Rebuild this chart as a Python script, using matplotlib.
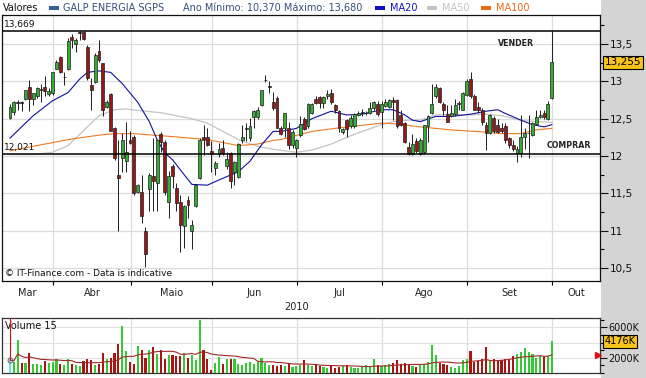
import numpy as np
import pandas as pd
import matplotlib
matplotlib.use('Agg')
import matplotlib.pyplot as plt
from matplotlib import font_manager
from matplotlib.patches import Rectangle
from matplotlib.ticker import MultipleLocator, FixedLocator, FuncFormatter
from matplotlib.transforms import blended_transform_factory

# sessoes de 16 Mar a 30 Set 2010 (sem 2 e 5 Abr)
sessoes = pd.bdate_range('2010-03-16', '2010-09-30')
sessoes = sessoes[~sessoes.isin(pd.to_datetime(['2010-04-02', '2010-04-05']))]

abertura = [12.51, 12.59, 12.71, 12.72, 12.76, 12.92, 12.76, 12.80, 12.89, 12.93,
            12.83, 12.84, 13.17, 13.32, 13.06, 13.17, 13.60, 13.50, 13.65, 13.66,
            13.46, 12.95, 12.99, 13.41, 13.24, 12.66, 12.83, 12.38, 11.75, 11.97,
            11.94, 12.22, 12.25, 11.52, 11.52, 10.99, 11.56, 11.73, 11.64, 12.30,
            12.19, 11.39, 11.87, 11.57, 11.39, 11.06, 11.41, 11.00, 11.33, 11.71,
            12.25, 12.25, 12.07, 11.84, 12.03, 12.11, 11.87, 12.04, 11.78, 11.72,
            12.22, 12.36, 12.24, 12.52, 12.52, 12.68, 13.02, 12.93, 12.73, 12.78,
            12.37, 12.37, 12.37, 12.15, 12.11, 12.28, 12.50, 12.40, 12.58, 12.77,
            12.79, 12.71, 12.81, 12.84, 12.68, 12.60, 12.32, 12.48, 12.40, 12.40,
            12.55, 12.58, 12.57, 12.58, 12.64, 12.70, 12.59, 12.67, 12.66, 12.75,
            12.75, 12.55, 12.44, 12.12, 12.03, 12.20, 12.03, 12.05, 12.40, 12.57,
            12.80, 12.91, 12.69, 12.56, 12.54, 12.56, 12.70, 12.62, 12.82, 13.03,
            12.81, 12.65, 12.62, 12.42, 12.31, 12.51, 12.42, 12.37, 12.40, 12.24,
            12.15, 12.04, 12.04, 12.25, 12.31, 12.28, 12.43, 12.52, 12.58, 12.50,
            12.78]
fecho = [12.66, 12.72, 12.72, 12.71, 12.88, 12.76, 12.84, 12.91, 12.90, 12.875,
         12.875, 13.12, 13.26, 13.13, 13.06, 13.54, 13.55, 13.56, 13.65, 13.57,
         13.04, 12.89, 13.35, 13.28, 12.61, 12.72, 12.33, 11.97, 11.70, 12.22,
         12.06, 12.18, 11.50, 11.61, 11.20, 10.69, 11.75, 11.67, 12.22, 12.19,
         11.52, 11.73, 11.73, 11.37, 11.08, 11.33, 11.35, 11.07, 11.61, 12.22,
         12.22, 12.15, 12.03, 11.90, 12.09, 12.04, 11.96, 11.67, 11.92, 12.16,
         12.26, 12.38, 12.40, 12.60, 12.61, 12.88, 13.02, 12.93, 12.64, 12.38,
         12.30, 12.57, 12.15, 12.32, 12.21, 12.43, 12.36, 12.70, 12.70, 12.71,
         12.71, 12.79, 12.83, 12.72, 12.61, 12.38, 12.36, 12.36, 12.51, 12.56,
         12.57, 12.58, 12.58, 12.64, 12.72, 12.56, 12.70, 12.73, 12.75, 12.72,
         12.40, 12.42, 12.19, 12.03, 12.16, 12.07, 12.21, 12.41, 12.53, 12.70,
         12.93, 12.72, 12.62, 12.46, 12.58, 12.68, 12.70, 12.84, 13.00, 12.80,
         12.62, 12.62, 12.46, 12.31, 12.55, 12.33, 12.32, 12.34, 12.22, 12.15,
         12.10, 12.10, 12.25, 12.31, 12.31, 12.44, 12.52, 12.55, 12.52, 12.70,
         13.255]
maximo = [12.70, 12.74, 12.75, 12.74, 12.89, 13.02, 12.85, 12.93, 12.97, 13.07,
          12.91, 13.13, 13.28, 13.34, 13.13, 13.58, 13.63, 13.58, 13.67, 13.68,
          13.49, 13.04, 13.38, 13.55, 13.25, 12.75, 12.84, 12.39, 12.22, 12.31,
          12.45, 12.33, 12.28, 11.63, 11.75, 11.05, 11.77, 12.24, 12.23, 12.32,
          12.21, 11.80, 11.89, 11.64, 11.48, 11.35, 11.47, 11.14, 11.62, 12.24,
          12.42, 12.37, 12.20, 11.93, 12.17, 12.22, 12.05, 12.06, 11.94, 12.17,
          12.42, 12.44, 12.51, 12.61, 12.66, 12.89, 13.09, 13.00, 12.86, 12.80,
          12.40, 12.58, 12.45, 12.35, 12.23, 12.54, 12.52, 12.71, 12.71, 12.81,
          12.81, 12.80, 12.89, 12.90, 12.69, 12.61, 12.38, 12.50, 12.55, 12.58,
          12.60, 12.63, 12.60, 12.72, 12.74, 12.74, 12.74, 12.76, 12.77, 12.79,
          12.76, 12.61, 12.46, 12.19, 12.29, 12.24, 12.24, 12.42, 12.55, 12.97,
          12.97, 12.93, 12.72, 12.68, 12.68, 12.76, 12.74, 12.86, 13.03, 13.13,
          12.83, 12.73, 12.64, 12.46, 12.56, 12.53, 12.49, 12.44, 12.44, 12.26,
          12.22, 12.13, 12.55, 12.37, 12.55, 12.46, 12.62, 12.61, 12.62, 12.74,
          13.68]
minimo = [12.49, 12.55, 12.62, 12.60, 12.75, 12.60, 12.68, 12.78, 12.73, 12.81,
          12.80, 12.82, 13.16, 13.11, 12.95, 13.15, 13.44, 13.39, 13.56, 13.56,
          13.02, 12.61, 12.98, 13.26, 12.54, 12.64, 12.33, 11.95, 10.99, 11.79,
          11.79, 12.16, 11.48, 11.50, 11.10, 10.52, 11.26, 11.26, 11.26, 12.06,
          11.48, 11.17, 11.57, 11.26, 10.72, 10.77, 11.17, 10.76, 11.32, 11.69,
          12.02, 12.13, 11.79, 11.74, 11.99, 12.02, 11.82, 11.57, 11.61, 11.71,
          12.17, 12.20, 12.20, 12.38, 12.50, 12.67, 12.99, 12.85, 12.62, 12.37,
          12.28, 12.26, 12.10, 12.11, 11.99, 12.26, 12.35, 12.38, 12.56, 12.69,
          12.64, 12.64, 12.76, 12.70, 12.58, 12.32, 12.29, 12.26, 12.38, 12.38,
          12.53, 12.53, 12.55, 12.56, 12.62, 12.54, 12.38, 12.65, 12.64, 12.48,
          12.38, 12.40, 12.17, 12.01, 12.01, 12.04, 12.01, 12.03, 12.19, 12.56,
          12.78, 12.71, 12.55, 12.45, 12.52, 12.54, 12.62, 12.61, 12.80, 12.78,
          12.61, 12.58, 12.42, 12.08, 12.30, 12.31, 12.31, 12.31, 12.17, 12.11,
          12.07, 11.92, 11.99, 12.09, 11.97, 12.27, 12.42, 12.51, 12.50, 12.48,
          12.76]
volume_k = [1700, 1500, 4350, 1300, 1300, 2600, 1250, 1150, 1000, 1600,
            1330, 1470, 1780, 1150, 1060, 1780, 1150, 1020, 890, 1600,
            1780, 1690, 1020, 1240, 2660, 1900, 2040, 2580, 3820, 6200,
            2890, 1460, 1240, 3550, 3020, 2040, 3020, 3370, 2490, 3020,
            1900, 2350, 2350, 2220, 2220, 2660, 2040, 2350, 1690, 6930,
            3020, 1780, 440, 1330, 2130, 1240, 1900, 1900, 1780, 1200,
            1100, 1300, 1500, 1200, 1400, 2040, 1300, 1000, 1000, 900,
            1100, 900, 1200, 800, 900, 1000, 1690, 1100, 900, 1000,
            900, 800, 700, 900, 700, 800, 900, 1000, 800, 700,
            700, 900, 1000, 800, 1780, 1100, 900, 1000, 1200, 1300,
            1690, 1200, 1300, 1000, 900, 800, 1000, 1200, 1500, 3700,
            2350, 1300, 1200, 1000, 800, 700, 900, 1700, 1900, 2890,
            1500, 1600, 1800, 3370, 1700, 1800, 1600, 1700, 1900, 1800,
            2200, 2500, 2800, 3240, 2700, 2500, 2000, 2300, 2100, 2200,
            4176]

# medias moveis (sessao, valor)
ma20_dia = [0, 6, 11, 15, 18, 20, 23, 26, 29, 33, 36, 38, 40, 42, 45, 47, 51, 54, 59, 62, 65,
            68, 70, 74, 78, 83, 87, 91, 96, 99, 102, 104, 106, 110, 114, 119, 123, 126,
            128, 132, 135, 138, 140]
ma20_val = [12.24, 12.54, 12.74, 12.85, 13.03, 13.12, 13.14, 13.12, 12.97, 12.72, 12.46,
            12.22, 12.04, 11.95, 11.75, 11.62, 11.61, 11.68, 11.79, 11.93, 12.15,
            12.33, 12.33, 12.37, 12.50, 12.60, 12.55, 12.56, 12.62, 12.62, 12.55, 12.48,
            12.46, 12.53, 12.53, 12.56, 12.60, 12.62, 12.57, 12.48, 12.42, 12.39, 12.42]
ma50_dia = [0, 6, 11, 15, 19, 23, 27, 30, 33, 39, 47, 51, 55, 59, 64, 68, 74, 78, 83, 87,
            91, 96, 99, 103, 106, 110, 114, 119, 123, 127, 132, 136, 140]
ma50_val = [12.02, 12.02, 12.05, 12.14, 12.34, 12.54, 12.62, 12.63, 12.61, 12.58, 12.50,
            12.44, 12.33, 12.22, 12.13, 12.09, 12.05, 12.08, 12.16, 12.25, 12.33, 12.42,
            12.46, 12.48, 12.48, 12.55, 12.56, 12.55, 12.56, 12.54, 12.48, 12.46, 12.45]
ma100_dia = [0, 6, 15, 23, 27, 32, 42, 51, 59, 64, 68, 70, 78, 87, 96, 100, 106, 110, 114,
             123, 127, 132, 136, 140]
ma100_val = [12.07, 12.13, 12.22, 12.28, 12.30, 12.30, 12.26, 12.22, 12.14, 12.16, 12.21,
             12.22, 12.33, 12.39, 12.44, 12.43, 12.39, 12.37, 12.35, 12.32, 12.30, 12.30,
             12.35, 12.37]

meses = ['Mar', 'Abr', 'Maio', 'Jun', 'Jul', 'Ago', 'Set', 'Out']
nivel_vender = 13.669
nivel_comprar = 12.021


def fx(px):
    return px / 646


def fy(py):
    return 1 - py / 378


def virgula(v, pos=None):
    s = f'{v:g}'
    return s.replace('.', ',')


# fonte estreita para os avisos, se existir
instaladas = {f.name for f in font_manager.fontManager.ttflist}
if 'Liberation Sans Narrow' in instaladas:
    aviso = dict(family='Liberation Sans Narrow', fontsize=7.5)
else:
    aviso = dict(family='DejaVu Sans', fontstretch='condensed', fontsize=6.3)

x = np.arange(len(fecho))
o = np.array(abertura)
c = np.array(fecho)
sobe = c >= o
doji = np.abs(c - o) < 0.012

# posicao das viragens de mes em indice de sessao
mes_sessao = pd.Series(sessoes.month)
viragens = [i - 0.85 for i in range(1, len(sessoes)) if mes_sessao[i] != mes_sessao[i - 1]]
viragens.append(len(sessoes) - 0.85)
xmin, xmax = -2.07, 152.45

fig = plt.figure(figsize=(6.46, 3.78), dpi=100)
fig.patch.set_facecolor('white')
fig.add_artist(Rectangle((fx(601), 0), 1 - fx(601), 1, transform=fig.transFigure,
                         facecolor='#d4d4d4', edgecolor='none', zorder=0))

ax = fig.add_axes([fx(2), fy(281), fx(598), 266 / 378])
ax.set_xlim(xmin, xmax)
ax.set_ylim(10.327, 13.888)

# grelha
for v in viragens:
    ax.axvline(v, color='#dcdcdc', lw=0.9, zorder=1)
for v in np.arange(10.5, 13.6, 0.5):
    ax.axhline(v, color='#dcdcdc', lw=0.9, zorder=1)

# medias moveis
ax.plot(ma50_dia, ma50_val, color='#c4c4c4', lw=0.9, zorder=2)
ax.plot(ma100_dia, ma100_val, color='#ee7b22', lw=0.8, zorder=2)
ax.plot(ma20_dia, ma20_val, color='#1010a0', lw=0.8, zorder=2)

# velas
cores = np.where(doji, '#202020', np.where(sobe, '#33ad33', '#961818'))
ax.vlines(x, minimo, maximo, color='#1e1e1e', lw=0.7, zorder=3)
altura = np.maximum(np.abs(c - o), 0.004)
ax.bar(x, altura, bottom=np.minimum(o, c), width=0.75, color=cores,
       edgecolor='#1e1e1e', linewidth=0.5, zorder=4)

# suporte e resistencia
mix = blended_transform_factory(ax.transAxes, ax.transData)
ax.axhline(nivel_vender, color='black', lw=1.1, zorder=5)
ax.axhline(nivel_comprar, color='black', lw=1.1, zorder=5)
ax.text(0.003, nivel_vender + 0.03, virgula(nivel_vender), transform=mix,
        fontsize=6.5, va='bottom', ha='left', color='#111111')
ax.text(0.003, nivel_comprar + 0.03, virgula(nivel_comprar), transform=mix,
        fontsize=6.5, va='bottom', ha='left', color='#111111')
ax.text(130.8, 13.5, 'VENDER', fontweight='bold', ha='center', va='center',
        color='#222222', zorder=6, **aviso)
ax.text(144.4, 12.14, 'COMPRAR', fontweight='bold', ha='center', va='center',
        color='#222222', zorder=6, **aviso)
ax.text(0.005, 0.03, '\u00a9 IT-Finance.com - Data is indicative', transform=ax.transAxes,
        fontsize=6.5, ha='left', va='center', color='#111111')

# eixo de precos a direita
ax.yaxis.tick_right()
ax.yaxis.set_major_locator(FixedLocator(np.arange(10.5, 13.6, 0.5)))
ax.yaxis.set_minor_locator(MultipleLocator(0.25))
ax.yaxis.set_major_formatter(FuncFormatter(virgula))
ax.tick_params(axis='y', which='major', length=6, width=0.8, labelsize=7.5, pad=1, colors='#111111')
ax.tick_params(axis='y', which='minor', length=3, width=0.8)
ax.set_xticks(viragens)
ax.set_xticklabels([])
ax.tick_params(axis='x', length=3, width=0.8, direction='out')
for s in ax.spines.values():
    s.set_color('#111111')
    s.set_linewidth(0.9)

ax.text(1.008, 13.255, virgula(13.255), transform=mix,
        fontsize=7.5, ha='left', va='center', color='black', zorder=10, clip_on=False,
        bbox=dict(boxstyle='square,pad=0.15', fc='#f8c41c', ec='black', lw=0.8))

# meses e ano
limites = [xmin] + viragens + [xmax]
for i, m in enumerate(meses):
    meio = (limites[i] + limites[i + 1]) / 2
    ax.text(meio, -0.045, m, transform=blended_transform_factory(ax.transData, ax.transAxes),
            fontsize=7, ha='center', va='center', color='#222222')
fig.text(fx(297), fy(307), '2010', fontsize=7, ha='center', va='center', color='#222222')

# volume
axv = fig.add_axes([fx(2), fy(373), fx(598), 55 / 378])
axv.set_xlim(xmin, xmax)
axv.set_ylim(0, 7240)
for v in viragens:
    axv.axvline(v, color='#dcdcdc', lw=0.9, zorder=1)
for v in [2000, 4000, 6000]:
    axv.axhline(v, color='#e2e2e2', lw=0.8, zorder=1)
vcores = list(np.where(sobe, '#35c935', '#ab1414'))
vcores[0] = '#6fe0e8'
axv.bar(x, volume_k, width=0.55, color=vcores, zorder=3)
media_vol = pd.Series(volume_k).rolling(15, min_periods=1).mean()
axv.plot(x, media_vol, color='#a02828', lw=0.8, zorder=4)
axv.vlines(0, media_vol[0], 7240, color='#d01010', lw=0.8, zorder=5)
axv.plot(0, media_vol[0], 'o', ms=3.5, mfc='none', mec='#606060', mew=0.7, zorder=6)
axv.plot(xmax - 0.6, media_vol.iloc[-1], '>', ms=4, color='#e01010', zorder=6, clip_on=False)
axv.text(0.005, 0.86, 'Volume 15', transform=axv.transAxes, fontsize=7, ha='left', va='center',
         color='#111111')
axv.yaxis.tick_right()
axv.yaxis.set_major_locator(FixedLocator([2000, 4000, 6000]))
axv.yaxis.set_minor_locator(MultipleLocator(1000))
axv.yaxis.set_major_formatter(FuncFormatter(lambda v, p: '' if v == 4000 else f'{v:.0f}K'))
axv.tick_params(axis='y', which='major', length=5, width=0.8, labelsize=7, pad=1, colors='#111111')
axv.tick_params(axis='y', which='minor', length=3, width=0.8)
axv.set_xticks([])
for s in axv.spines.values():
    s.set_color('#333333')
    s.set_linewidth(0.9)
axv.text(1.008, 4176, '4176K', transform=blended_transform_factory(axv.transAxes, axv.transData),
         fontsize=7, ha='left', va='center', color='black', zorder=10, clip_on=False,
         bbox=dict(boxstyle='square,pad=0.15', fc='#f8c41c', ec='black', lw=0.8))

# cabecalho
yc = fy(8)
fig.text(fx(3), yc, 'Valores', fontsize=7, va='center', color='#111111')
fig.add_artist(Rectangle((fx(49), yc - 2 / 378), fx(10), 4 / 378, transform=fig.transFigure,
                         facecolor='#33609a', edgecolor='none'))
fig.text(fx(63), yc, 'GALP ENERGIA SGPS', fontsize=7, va='center', color='#35507a')
fig.text(fx(183), yc, 'Ano M\u00ednimo: 10,370 M\u00e1ximo: 13,680', fontsize=7, va='center', color='#35507a')
for px, nome, cor in [(375, 'MA20', '#1010c0'), (427, 'MA50', '#c4c4c4'), (481, 'MA100', '#ee6a12')]:
    fig.add_artist(Rectangle((fx(px), yc - 2 / 378), fx(10), 4 / 378, transform=fig.transFigure,
                             facecolor=cor, edgecolor='none'))
    fig.text(fx(px + 15), yc, nome, fontsize=7, va='center', color=cor)

fig.savefig('out.png', dpi=100)
